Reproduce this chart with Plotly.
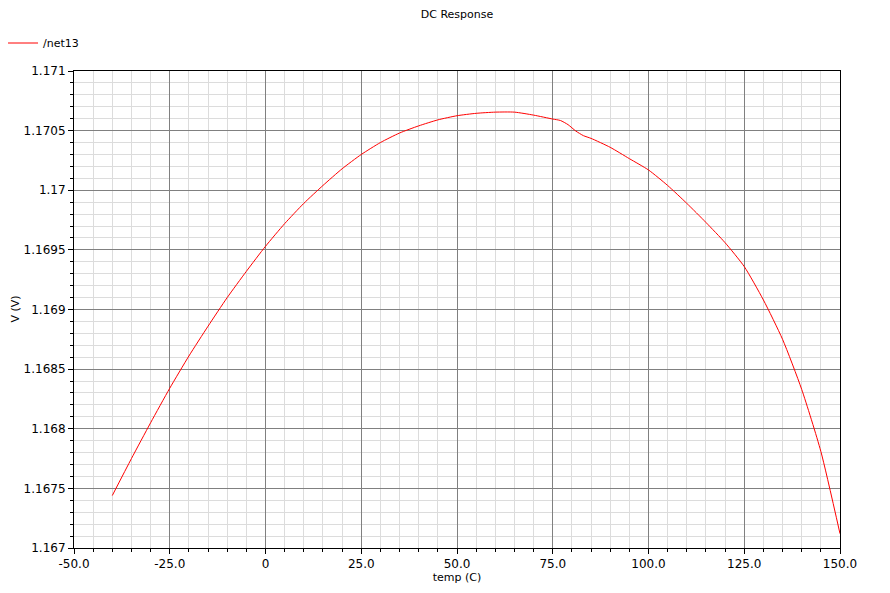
import plotly.graph_objects as go

temp = [-40, -35, -30, -25, -20, -15, -10, -5, 0, 5, 10, 15, 20, 25, 30, 35, 40,
        45, 50, 55, 60, 65, 70, 75, 77, 79, 81, 83, 85, 90, 95, 100, 105, 110,
        115, 120, 125, 130, 135, 140, 145, 150]
v_net13 = [1.16744, 1.16775, 1.16805, 1.16834, 1.16861, 1.16886, 1.16910, 1.16932,
           1.16953, 1.16972, 1.16989, 1.17004, 1.17018, 1.17030, 1.17040, 1.17048,
           1.17054, 1.17059, 1.170625, 1.170645, 1.170655, 1.170655, 1.17063, 1.170597,
           1.170585, 1.17055, 1.170497, 1.170458, 1.170435, 1.17036, 1.170265, 1.17017,
           1.17004, 1.16989, 1.16973, 1.16956, 1.16936, 1.16908, 1.16875, 1.16833,
           1.16781, 1.16712]

x_tickvals = [-50, -25, 0, 25, 50, 75, 100, 125, 150]
x_ticktext = ["-50.0", "-25.0", "0", "25.0", "50.0", "75.0", "100.0", "125.0", "150.0"]
y_tickvals = [1.167, 1.1675, 1.168, 1.1685, 1.169, 1.1695, 1.17, 1.1705, 1.171]
y_ticktext = ["1.167", "1.1675", "1.168", "1.1685", "1.169", "1.1695", "1.17", "1.1705", "1.171"]
y_title = "V (V)"
x_title = "temp (C)"

FONT = "DejaVu Sans"

fig = go.Figure()
fig.add_trace(go.Scatter(x=temp, y=v_net13, mode="lines", name="/net13",
                         line=dict(color="#ff0000", width=1, shape="spline", smoothing=0.6)))

fig.update_layout(
    width=890, height=593,
    margin=dict(l=74, r=50, t=71, b=45, autoexpand=False),
    paper_bgcolor="white", plot_bgcolor="white",
    font=dict(family=FONT, size=12, color="black"),
    title=dict(text="DC Response", x=0.5, xref="paper", y=1 - 14 / 593, yref="container",
               yanchor="middle", font=dict(family=FONT, size=11, color="black")),
    showlegend=True,
    legend=dict(x=0.0034, xref="container", y=1 - 43 / 593, yref="container",
                yanchor="middle", xanchor="left", bgcolor="rgba(0,0,0,0)",
                font=dict(family=FONT, size=11, color="black"),
                itemwidth=30),
    annotations=[dict(text=y_title, textangle=-90, xref="paper", yref="paper",
                      x=(15 - 74) / 766, y=0.5, xanchor="center", yanchor="middle",
                      showarrow=False, font=dict(family=FONT, size=11, color="black"))],
)

fig.update_xaxes(
    range=[-50, 150], tickvals=x_tickvals, ticktext=x_ticktext,
    showgrid=True, gridcolor="#808080", gridwidth=1,
    showline=True, linecolor="black", linewidth=1, mirror=True,
    ticks="outside", ticklen=5, tickcolor="black",
    tickfont=dict(family=FONT, size=12, color="black"),
    minor=dict(dtick=5, tick0=-50, showgrid=True, gridcolor="#dcdcdc", gridwidth=1,
               ticks="outside", ticklen=3, tickcolor="black"),
    zeroline=False, automargin=False,
    title=dict(text=x_title, font=dict(family=FONT, size=11, color="black"), standoff=2),
)
fig.update_yaxes(
    range=[1.167, 1.171], tickvals=y_tickvals, ticktext=y_ticktext,
    showgrid=True, gridcolor="#808080", gridwidth=1,
    showline=True, linecolor="black", linewidth=1, mirror=True,
    ticks="outside", ticklen=5, tickcolor="black",
    tickfont=dict(family=FONT, size=12, color="black"),
    minor=dict(dtick=0.0001, tick0=1.167, showgrid=True, gridcolor="#dcdcdc", gridwidth=1,
               ticks="outside", ticklen=3, tickcolor="black"),
    zeroline=False, automargin=False,
)

fig.write_html("out.html", config={"displayModeBar": False},
               post_script="document.body.style.margin='0px';")
